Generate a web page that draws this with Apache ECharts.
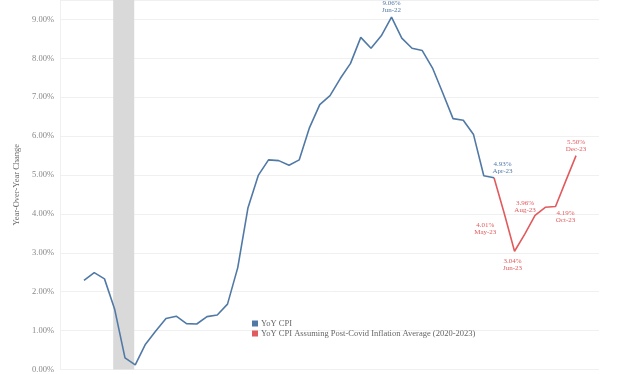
<!DOCTYPE html>
<html>
<head>
<meta charset="utf-8">
<script src="https://cdn.jsdelivr.net/npm/echarts@6/dist/echarts.min.js"></script>
<style>html,body{margin:0;padding:0;background:#fff}#c{width:640px;height:374px}</style>
</head>
<body>
<div id="c"></div>
<script>
// Months Dec-19 .. Dec-23
var months = ['Dec-19','Jan-20','Feb-20','Mar-20','Apr-20','May-20','Jun-20','Jul-20','Aug-20','Sep-20','Oct-20','Nov-20',
  'Dec-20','Jan-21','Feb-21','Mar-21','Apr-21','May-21','Jun-21','Jul-21','Aug-21','Sep-21','Oct-21','Nov-21',
  'Dec-21','Jan-22','Feb-22','Mar-22','Apr-22','May-22','Jun-22','Jul-22','Aug-22','Sep-22','Oct-22','Nov-22',
  'Dec-22','Jan-23','Feb-23','Mar-23','Apr-23','May-23','Jun-23','Jul-23','Aug-23','Sep-23','Oct-23','Nov-23','Dec-23'];
// YoY CPI, Dec-19 .. Apr-23
var cpi = [2.29,2.49,2.33,1.54,0.30,0.12,0.65,0.99,1.31,1.37,1.18,1.17,
  1.36,1.40,1.68,2.62,4.16,4.99,5.39,5.37,5.25,5.39,6.22,6.81,
  7.04,7.48,7.87,8.54,8.26,8.58,9.06,8.52,8.26,8.20,7.75,7.11,
  6.45,6.41,6.04,4.98,4.93];
// Projected YoY CPI, Apr-23 .. Dec-23
var projMonths = ['Apr-23','May-23','Jun-23','Jul-23','Aug-23','Sep-23','Oct-23','Nov-23','Dec-23'];
var proj = [4.93,4.01,3.04,3.48,3.96,4.17,4.19,4.85,5.50];
// recession band (month positions)
var recession = [2.85, 4.9];
var yTicks = [0,1,2,3,4,5,6,7,8,9];

var FONT = 'Liberation Serif';
var BLUE = '#5179a6', RED = '#e15b5e';

// label placements (offset from point)
var blueLabels = {'Jun-22':[0,-10], 'Apr-23':[8.5,-10]};
var redLabels = {'May-23':[-19,15], 'Jun-23':[-2,13], 'Aug-23':[-10,-9], 'Oct-23':[10,10], 'Dec-23':[0,-10]};

function mk(list, vals, labels, color) {
  return vals.map(function (v, i) {
    var name = list[i];
    var idx = months.indexOf(name);
    var item = {value: [idx, v], name: name};
    if (labels[name]) {
      item.label = {show: true, position: 'inside', offset: labels[name],
        formatter: v.toFixed(2) + '%\n' + name, color: color,
        fontFamily: FONT, fontSize: 7, lineHeight: 7};
    }
    return item;
  });
}

var chart = echarts.init(document.getElementById('c'));
chart.setOption({
  animation: false,
  backgroundColor: '#fff',
  grid: {left: 60, right: 41, top: 0, bottom: -2},
  xAxis: {type: 'value', min: -2.34, max: 50.24, show: false},
  yAxis: {
    type: 'value', min: 0, max: 9.5, interval: 1, z: 1,
    name: 'Year-Over-Year Change', nameLocation: 'middle', nameGap: 29, nameRotate: 90,
    nameTextStyle: {fontFamily: FONT, fontSize: 8.5, color: '#666'},
    axisLine: {show: true, onZero: false, lineStyle: {color: '#f0f0f0'}},
    axisTick: {show: false},
    splitLine: {lineStyle: {color: '#f0f0f0', width: 1}},
    axisLabel: {fontFamily: FONT, fontSize: 8.5, color: '#888', margin: 6,
      formatter: function (v) { return yTicks.indexOf(v) >= 0 ? v.toFixed(2) + '%' : ''; }}
  },
  legend: {
    orient: 'vertical', left: 247, top: 314, itemWidth: 6, itemHeight: 6, itemGap: 1,
    icon: 'rect', textStyle: {fontFamily: FONT, fontSize: 8.5, color: '#666', padding: [0,0,0,-2]},
    data: ['YoY CPI', 'YoY CPI Assuming Post-Covid Inflation Average (2020-2023)']
  },
  series: [
    {type: 'line', name: 'band', z: 0, data: [], silent: true,
      markArea: {silent: true, itemStyle: {color: '#d9d9d9'},
        data: [[{xAxis: recession[0]}, {xAxis: recession[1]}]]}},
    {type: 'line', name: 'YoY CPI', z: 3, color: BLUE, data: mk(months, cpi, blueLabels, BLUE),
      symbol: 'circle', symbolSize: 0, lineStyle: {width: 1.6, color: BLUE}},
    {type: 'line', name: 'YoY CPI Assuming Post-Covid Inflation Average (2020-2023)', z: 2, color: RED,
      data: mk(projMonths, proj, redLabels, RED),
      symbol: 'circle', symbolSize: 0, lineStyle: {width: 1.6, color: RED}}
  ]
});
</script>
</body>
</html>
